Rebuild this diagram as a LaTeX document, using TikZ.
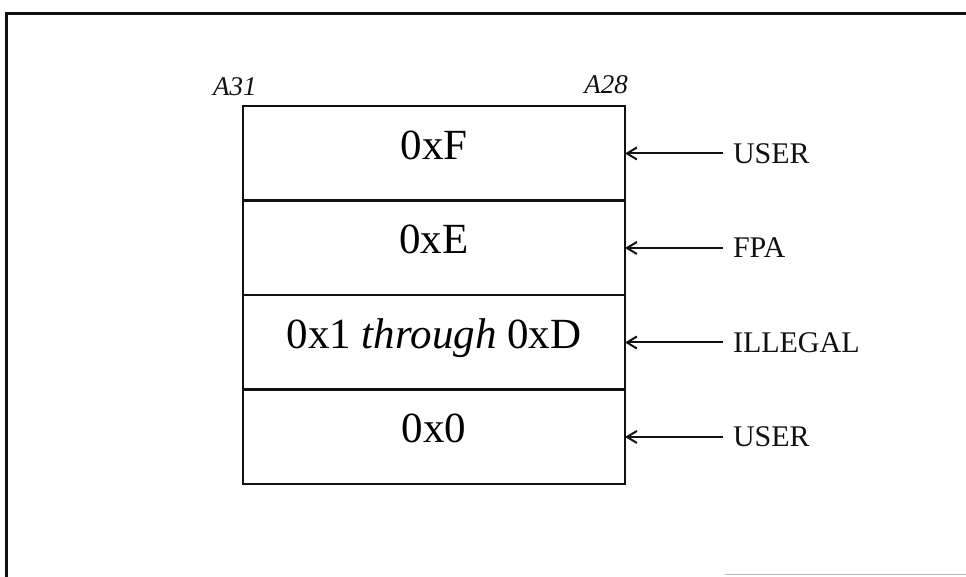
\documentclass[tikz,border=0pt]{standalone}
\usepackage{fontspec}
\setmainfont{Liberation Serif}
\usepackage{tikz}
\usetikzlibrary{positioning,arrows.meta}
\definecolor{ink}{HTML}{111111}
\definecolor{faint}{HTML}{BBBBBB}

\tikzset{
  field/.style={draw=ink, line width=2.5pt, outer sep=0pt, minimum width=382pt,
    minimum height=94.5pt, text height=27pt, text depth=15pt,
    font=\fontsize{43}{48}\selectfont},
  space/.style={inner sep=0pt, outer sep=0pt, text=ink,
    font=\fontsize{30}{34}\selectfont},
  bitno/.style={inner sep=0pt, text=ink, font=\fontsize{27}{30}\selectfont\itshape},
  pointer/.style={draw=ink, line width=2pt, shorten <=10pt,
    -{Straight Barb[length=10pt,width=12pt,line width=2pt]}}
}

\begin{document}
\begin{tikzpicture}[x=1pt,y=1pt]
\useasboundingbox (0,0) rectangle (966,577);
% frame
\draw[ink, line width=3pt] (6,0) -- (6,563) -- (966,563);
\draw[faint, line width=1pt] (725,2) -- (966,2);

% address space, A31..A28
\node[field] (rowF) at (434,423.5) {0xF};
\node[field, below=0pt of rowF] (rowE) {0xE};
\node[field, below=0pt of rowE] (rowMid) {0x1 \textit{through} 0xD};
\node[field, below=0pt of rowMid] (rowZero) {0x0};

\node[bitno, anchor=base west] (msb) at ([xshift=-30pt,yshift=11pt]rowF.north west) {A31};
\node[bitno, anchor=base east] (lsb) at ([xshift=3pt,yshift=13pt]rowF.north east) {A28};

% who owns each segment
\node[space, anchor=west, right=108pt of rowF] (lblF) {USER};
\node[space, anchor=west, right=108pt of rowE] (lblE) {FPA};
\node[space, anchor=west, right=108pt of rowMid] (lblMid) {ILLEGAL};
\node[space, anchor=west, right=108pt of rowZero] (lblZero) {USER};

\draw[pointer] (lblF.west) -- (rowF.east);
\draw[pointer] (lblE.west) -- (rowE.east);
\draw[pointer] (lblMid.west) -- (rowMid.east);
\draw[pointer] (lblZero.west) -- (rowZero.east);
\end{tikzpicture}
\end{document}
